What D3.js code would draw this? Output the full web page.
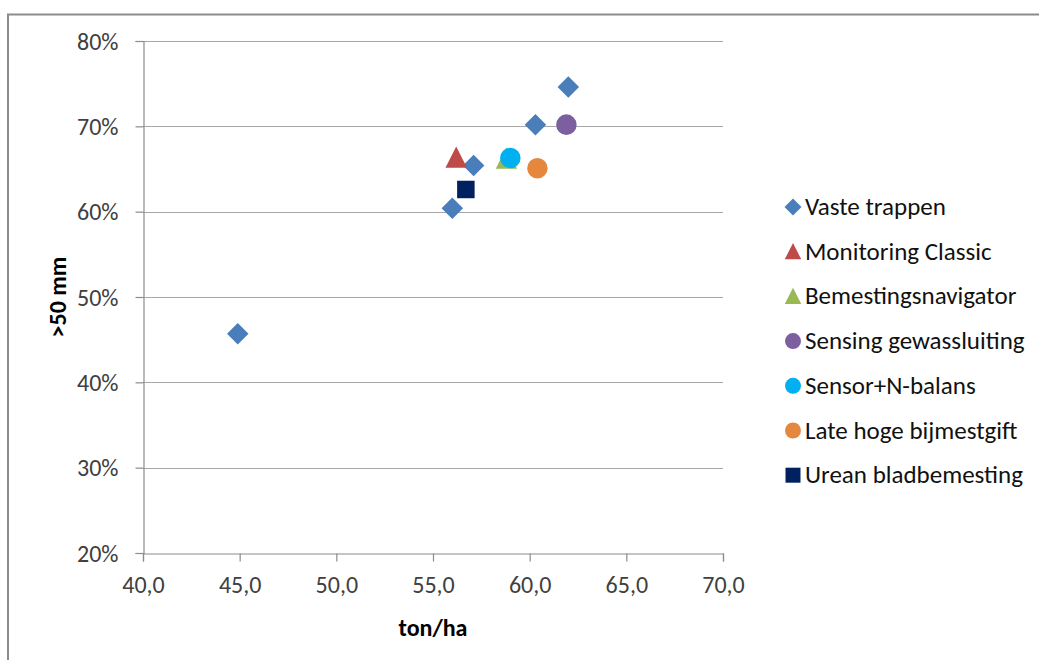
<!DOCTYPE html>
<html>
<head>
<meta charset="utf-8">
<script src="https://cdn.jsdelivr.net/npm/d3@7"></script>
<style>
  html, body { margin: 0; padding: 0; background: #fff; }
  svg { display: block; }
  text { font-family: Carlito, "Noto Sans", sans-serif; }
</style>
</head>
<body>
<svg id="chart" width="1039" height="660"></svg>
<script>
// ---- data ----
const seriesNames = ["Vaste trappen", "Monitoring Classic", "Bemestingsnavigator",
  "Sensing gewassluiting", "Sensor+N-balans", "Late hoge bijmestgift", "Urean bladbemesting"];
const seriesShapes = ["diamond", "triangle", "triangle", "circle", "circle", "circle", "square"];
const seriesColors = ["#4A7EBB", "#BE4B48", "#98B954", "#7D5FA0", "#00B0F0", "#E5883D", "#002060"];

const vasteTrappenX = [44.9, 56.0, 57.1, 60.3, 62.0];
const vasteTrappenY = [0.457, 0.604, 0.654, 0.702, 0.746];
const monitoringClassicX = [56.2];
const monitoringClassicY = [0.663];
const bemestingsnavigatorX = [58.8];
const bemestingsnavigatorY = [0.662];
const sensingGewassluitingX = [61.9];
const sensingGewassluitingY = [0.702];
const sensorNBalansX = [59.0];
const sensorNBalansY = [0.663];
const lateHogeBijmestgiftX = [60.4];
const lateHogeBijmestgiftY = [0.651];
const ureanBladbemestingX = [56.7];
const ureanBladbemestingY = [0.626];

const xTicks = [40, 45, 50, 55, 60, 65, 70];
const yTicks = [0.2, 0.3, 0.4, 0.5, 0.6, 0.7, 0.8];
const xTitle = "ton/ha";
const yTitle = ">50 mm";

const seriesX = [vasteTrappenX, monitoringClassicX, bemestingsnavigatorX, sensingGewassluitingX,
  sensorNBalansX, lateHogeBijmestgiftX, ureanBladbemestingX];
const seriesY = [vasteTrappenY, monitoringClassicY, bemestingsnavigatorY, sensingGewassluitingY,
  sensorNBalansY, lateHogeBijmestgiftY, ureanBladbemestingY];

// ---- layout ----
const svg = d3.select("#chart");
const x = d3.scaleLinear().domain([40, 70]).range([143, 723]);
const y = d3.scaleLinear().domain([0.2, 0.8]).range([553, 41]);

// outer border
svg.append("path")
  .attr("d", "M8,660 L8,14.5 L1039,14.5")
  .attr("fill", "none").attr("stroke", "#8C8C8C").attr("stroke-width", 2);

// custom symbol shapes (width w)
function shapePath(shape, w) {
  const h = w / 2;
  if (shape === "diamond") return `M0,${-h}L${h},0L0,${h}L${-h},0Z`;
  if (shape === "square") return `M${-h},${-h}H${h}V${h}H${-h}Z`;
  if (shape === "triangle") return `M0,${-h * 1.05}L${h},${h * 0.92}L${-h},${h * 0.92}Z`;
  if (shape === "circle") return `M${h},0A${h},${h} 0 1,1 ${-h},0A${h},${h} 0 1,1 ${h},0Z`;
}
const markerSize = { diamond: 21.5, square: 17.5, triangle: 21.5, circle: 20.5 };
const legendSize = { diamond: 17, square: 15, triangle: 16.5, circle: 16 };

// gridlines
svg.append("g").selectAll("line").data(yTicks.slice(1)).join("line")
  .attr("x1", x(40)).attr("x2", x(70))
  .attr("y1", d => Math.round(y(d)) + 0.5).attr("y2", d => Math.round(y(d)) + 0.5)
  .attr("stroke", "#A6A6A6").attr("stroke-width", 1.2);

// axes
const fmtX = d => d3.format(".1f")(d).replace(".", ",");
const xAxis = d3.axisBottom(x).tickValues(xTicks).tickFormat(fmtX).tickSize(8).tickPadding(14);
const yAxis = d3.axisLeft(y).tickValues(yTicks).tickFormat(d3.format(".0%")).tickSize(8).tickPadding(17);

const gx = svg.append("g").attr("transform", `translate(0,${Math.round(y(0.2)) + 0.5})`).call(xAxis);
const gy = svg.append("g").attr("transform", `translate(${Math.round(x(40)) + 0.5},0)`).call(yAxis);
[gx, gy].forEach(g => {
  g.select(".domain").attr("stroke", "#8C8C8C").attr("stroke-width", 1.2);
  g.selectAll(".tick line").attr("stroke", "#8C8C8C").attr("stroke-width", 1.2);
  g.selectAll(".tick text").attr("fill", "#404040").style("font-size", "24px")
    .style("font-family", 'Carlito, "Noto Sans", sans-serif');
});
gx.selectAll(".tick text").attr("dy", "0.71em");
gy.selectAll(".tick text").attr("dy", "0.34em");

// axis titles
svg.append("text").attr("x", (x(40) + x(70)) / 2).attr("y", 636)
  .attr("text-anchor", "middle").attr("font-weight", "bold").attr("font-size", 24)
  .attr("fill", "#000").text(xTitle);
svg.append("text").attr("transform", `translate(66,${(y(0.2) + y(0.8)) / 2}) rotate(-90)`)
  .attr("text-anchor", "middle").attr("font-weight", "bold").attr("font-size", 24)
  .attr("fill", "#000").text(yTitle);

// points
seriesNames.forEach((name, i) => {
  const pts = seriesX[i].map((vx, j) => [vx, seriesY[i][j]]);
  svg.append("g").selectAll("path").data(pts).join("path")
    .attr("transform", d => `translate(${x(d[0])},${y(d[1])})`)
    .attr("d", shapePath(seriesShapes[i], markerSize[seriesShapes[i]]))
    .attr("fill", seriesColors[i]);
});

// legend
const legend = svg.append("g");
seriesNames.forEach((name, i) => {
  const ly = 207 + i * 44.7;
  legend.append("path").attr("transform", `translate(793,${ly})`)
    .attr("d", shapePath(seriesShapes[i], legendSize[seriesShapes[i]]))
    .attr("fill", seriesColors[i]);
  legend.append("text").attr("x", 805).attr("y", ly).attr("dy", "0.32em")
    .attr("font-size", 25).attr("fill", "#111").text(name);
});
</script>
</body>
</html>
